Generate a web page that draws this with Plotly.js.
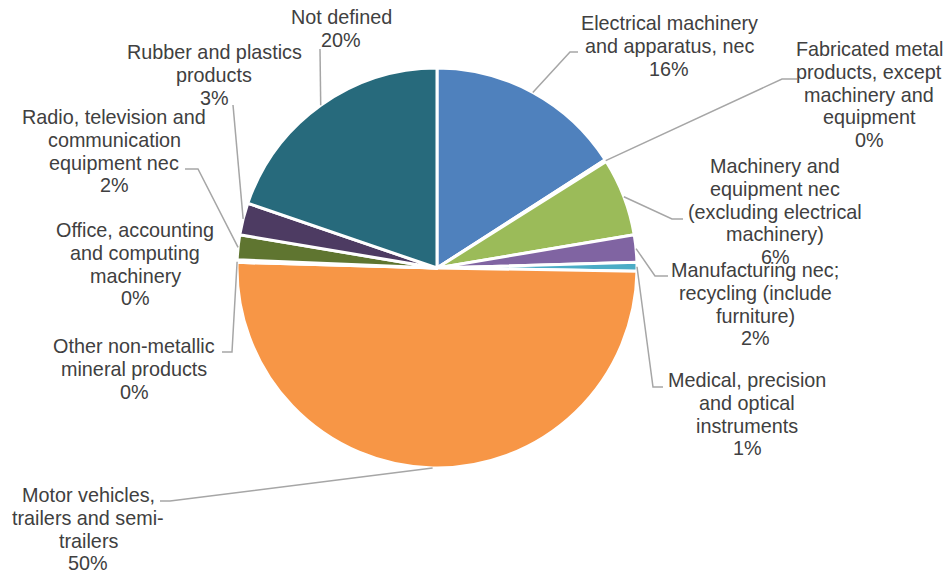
<!DOCTYPE html>
<html><head><meta charset="utf-8">
<script src="https://cdn.plot.ly/plotly-3.0.1.min.js"></script>
<style>html,body{margin:0;padding:0;background:#fff}#chart{width:951px;height:575px}</style>
</head><body><div id="chart"></div>
<script>
// ---- data ----
const categories = [
  'Electrical machinery and apparatus, nec',
  'Fabricated metal products, except machinery and equipment',
  'Machinery and equipment nec (excluding electrical machinery)',
  'Manufacturing nec; recycling (include furniture)',
  'Medical, precision and optical instruments',
  'Motor vehicles, trailers and semi-trailers',
  'Other non-metallic mineral products',
  'Office, accounting and computing machinery',
  'Radio, television and communication equipment nec',
  'Rubber and plastics products',
  'Not defined'
];
const values = [15.9, 0.15, 6.3, 2.2, 0.7, 50.2, 0.1, 0.1, 2.0, 2.6, 19.75];
const labelLines = [
  ['Electrical machinery', 'and apparatus, nec'],
  ['Fabricated metal', 'products, except', 'machinery and', 'equipment'],
  ['Machinery and', 'equipment nec', '(excluding electrical', 'machinery)'],
  ['Manufacturing nec;', 'recycling (include', 'furniture)'],
  ['Medical, precision', 'and optical', 'instruments'],
  ['Motor vehicles,', 'trailers and semi-', 'trailers'],
  ['Other non-metallic', 'mineral products'],
  ['Office, accounting', 'and computing', 'machinery'],
  ['Radio, television and', 'communication', 'equipment nec'],
  ['Rubber and plastics', 'products'],
  ['Not defined']
];
const colors = ['#4F81BD','#C0504D','#9BBB59','#8064A2','#4BACC6','#F79646',
                '#2C4D75','#772C2A','#5F7530','#4D3B62','#276A7C'];

// ---- layout (pixel positions of labels and leader knees) ----
const W = 951, H = 575;
const pieC = [437, 268], pieR = 200;
const labelPos = [[669,23],[869,49],[775,166],[755,270],[747,380],[88,495],[134,346],[135,230],[114,117],[214,52],[341,17]];
const leaderPts = [
  [[578,52],[570,52]],
  [[797,79],[782,79]],
  [[683,219],[672,219]],
  [[668,276],[655,276]],
  [[663,387],[653,387]],
  [[160,501],[170,501]],
  [[222,352],[232,352]],
  null,
  [[185,169],[198,169]],
  [[233,105]],
  [[320,49]]
];
const lineH = 22.8;
const px = x => x / W, py = y => 1 - y / H;

const total = values.reduce((a,b)=>a+b,0);
const annotations = [];
const shapes = [];
let cum = 0;
values.forEach((v,i) => {
  const mid = (cum + v/2) / total * 2 * Math.PI;
  cum += v;
  const lines = labelLines[i].concat([Math.round(v/total*100) + '%']);
  lines.forEach((t,k) => {
    annotations.push({
      x: px(labelPos[i][0]), y: py(labelPos[i][1] + k*lineH),
      xref:'paper', yref:'paper', xanchor:'center', yanchor:'middle',
      text: t, showarrow:false,
      font:{family:'"Liberation Sans", Arial, sans-serif', size:19.8, color:'#404040'}
    });
  });
  if (leaderPts[i]) {
    const ex = pieC[0] + pieR*Math.sin(mid), ey = pieC[1] - pieR*Math.cos(mid);
    const pts = leaderPts[i].concat([[ex,ey]]);
    const d = pts.map((p,j)=>(j?'L':'M')+px(p[0]).toFixed(5)+','+py(p[1]).toFixed(5)).join(' ');
    shapes.push({type:'path', xref:'paper', yref:'paper', path:d,
      line:{color:'#A6A6A6', width:1.5}});
  }
});

const trace = {
  type:'pie', labels:categories, values:values, sort:false,
  direction:'clockwise', rotation:0, textinfo:'none', hoverinfo:'label+percent',
  marker:{colors:colors, line:{color:'#FFFFFF', width:3}},
  domain:{x:[237/W, 637/W], y:[(H-468)/H, (H-68)/H]},
  showlegend:false
};

Plotly.newPlot('chart', [trace], {
  width:W, height:H, margin:{l:0,r:0,t:0,b:0},
  paper_bgcolor:'#FFFFFF', showlegend:false,
  annotations:annotations, shapes:shapes
}, {displayModeBar:false, staticPlot:true});
</script></body></html>
